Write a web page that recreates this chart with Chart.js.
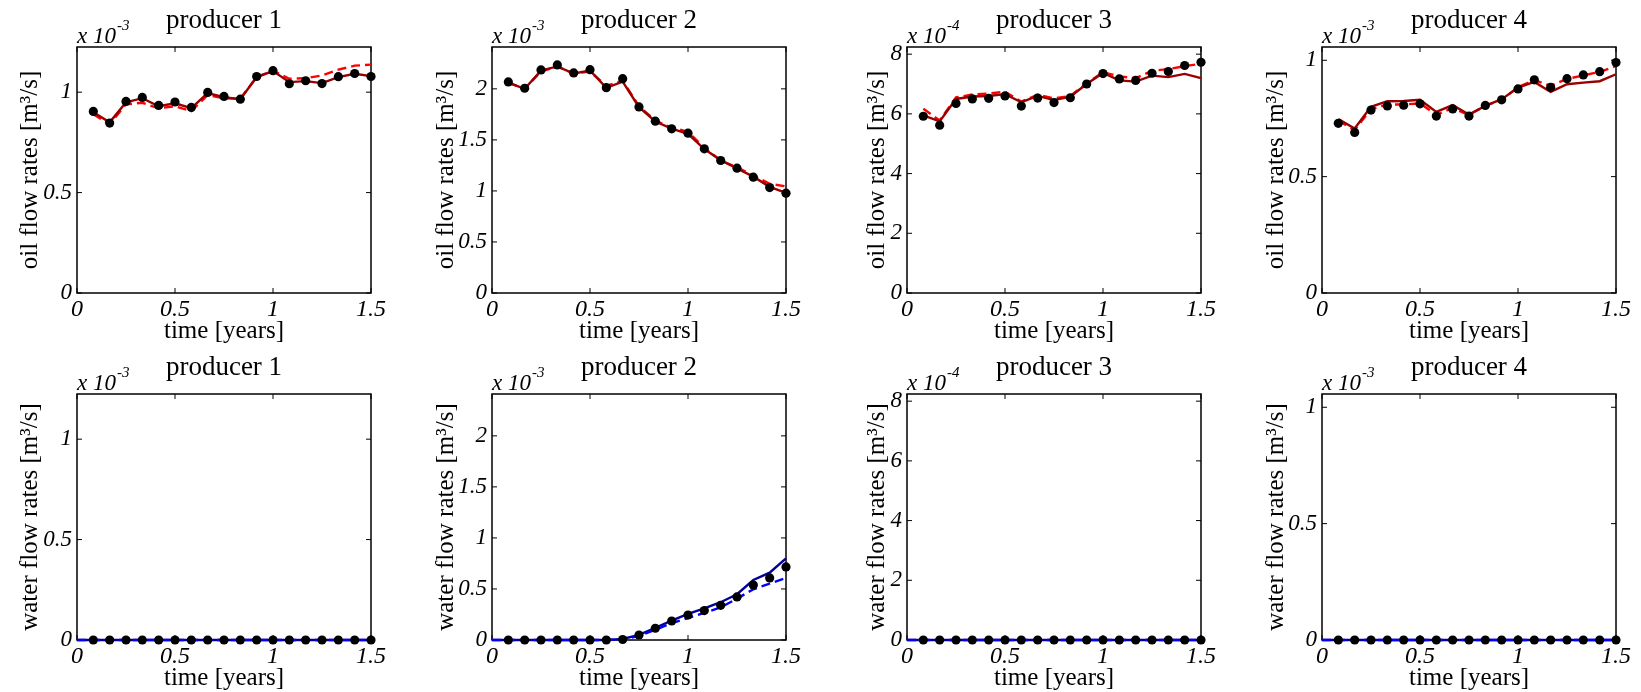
<!DOCTYPE html>
<html>
<head>
<meta charset="utf-8">
<title>producer flow rates</title>
<script src="https://cdn.jsdelivr.net/npm/chart.js@4.4.1/dist/chart.umd.min.js"></script>
<style>
  html, body { margin: 0; padding: 0; background: #fff; overflow: hidden; }
  #board { position: relative; width: 1641px; height: 692px; }
  #board canvas { position: absolute; }
</style>
</head>
<body>
<div id="board"></div>
<script>
// report times [years]
const time = [0.0833, 0.1667, 0.25, 0.3333, 0.4167, 0.5, 0.5833, 0.6667, 0.75,
              0.8333, 0.9167, 1.0, 1.0833, 1.1667, 1.25, 1.3333, 1.4167, 1.5];
// simulated water curves also start at t = 0
const timeFromZero = [0, 0.0833, 0.1667, 0.25, 0.3333, 0.4167, 0.5, 0.5833, 0.6667, 0.75,
                      0.8333, 0.9167, 1.0, 1.0833, 1.1667, 1.25, 1.3333, 1.4167, 1.5];

const producers = ['producer 1', 'producer 2', 'producer 3', 'producer 4'];
const exponents = [-3, -3, -4, -3];
const yMax = [1.225, 2.41, 8.24, 1.057];

const xTicks = [0, 0.5, 1, 1.5];
const xTickLabels = ['0', '0.5', '1', '1.5'];
const yTicks = [[0, 0.5, 1], [0, 0.5, 1, 1.5, 2], [0, 2, 4, 6, 8], [0, 0.5, 1]];
const yTickLabels = [['0', '0.5', '1'], ['0', '0.5', '1', '1.5', '2'], ['0', '2', '4', '6', '8'], ['0', '0.5', '1']];

// oil rates (in units of 10^exponent m3/s): observed, simulated (solid), simulated (dashed)
const oilObs1 = [0.904, 0.846, 0.954, 0.974, 0.934, 0.951, 0.924, 0.999, 0.979, 0.965, 1.078, 1.107, 1.042, 1.057, 1.043, 1.077, 1.093, 1.078];
const oilSim1 = [0.900, 0.850, 0.950, 0.970, 0.930, 0.945, 0.920, 0.995, 0.975, 0.965, 1.075, 1.105, 1.050, 1.055, 1.045, 1.075, 1.092, 1.080];
const oilAlt1 = [0.890, 0.840, 0.940, 0.947, 0.920, 0.930, 0.906, 0.985, 0.970, 0.968, 1.075, 1.107, 1.067, 1.070, 1.083, 1.112, 1.132, 1.137];

const oilObs2 = [2.068, 2.006, 2.185, 2.234, 2.156, 2.188, 2.012, 2.100, 1.823, 1.683, 1.608, 1.566, 1.412, 1.298, 1.223, 1.135, 1.033, 0.978];
const oilSim2 = [2.060, 2.000, 2.180, 2.220, 2.150, 2.180, 2.010, 2.070, 1.820, 1.680, 1.610, 1.560, 1.410, 1.300, 1.220, 1.140, 1.040, 0.980];
const oilAlt2 = [2.060, 2.000, 2.170, 2.220, 2.150, 2.170, 2.030, 2.080, 1.830, 1.690, 1.620, 1.580, 1.420, 1.300, 1.230, 1.150, 1.070, 1.045];

const oilObs3 = [5.92, 5.62, 6.35, 6.50, 6.52, 6.60, 6.26, 6.53, 6.38, 6.54, 7.00, 7.35, 7.17, 7.12, 7.36, 7.42, 7.62, 7.73];
const oilSim3 = [5.95, 5.75, 6.50, 6.58, 6.60, 6.66, 6.39, 6.60, 6.46, 6.58, 7.00, 7.37, 7.12, 7.08, 7.28, 7.23, 7.34, 7.20];
const oilAlt3 = [6.17, 5.78, 6.55, 6.65, 6.68, 6.74, 6.41, 6.64, 6.52, 6.60, 7.02, 7.40, 7.25, 7.20, 7.44, 7.50, 7.60, 7.68];

const oilObs4 = [0.729, 0.690, 0.786, 0.804, 0.807, 0.813, 0.760, 0.791, 0.760, 0.806, 0.830, 0.877, 0.916, 0.884, 0.921, 0.937, 0.951, 0.990];
const oilSim4 = [0.747, 0.707, 0.800, 0.824, 0.825, 0.830, 0.778, 0.807, 0.767, 0.804, 0.833, 0.882, 0.907, 0.864, 0.897, 0.904, 0.910, 0.940];
const oilAlt4 = [0.740, 0.700, 0.790, 0.810, 0.810, 0.815, 0.765, 0.795, 0.765, 0.805, 0.830, 0.885, 0.915, 0.890, 0.920, 0.935, 0.950, 0.975];

// water rates: only producer 2 sees breakthrough
const zeros18 = [0, 0, 0, 0, 0, 0, 0, 0, 0, 0, 0, 0, 0, 0, 0, 0, 0, 0];
const zeros19 = [0, 0, 0, 0, 0, 0, 0, 0, 0, 0, 0, 0, 0, 0, 0, 0, 0, 0, 0];
const watObs2 = [0, 0, 0, 0, 0, 0, 0, 0.005, 0.049, 0.115, 0.186, 0.245, 0.288, 0.340, 0.422, 0.539, 0.608, 0.716];
const watSim2 = [0, 0, 0, 0, 0, 0, 0, 0, 0.010, 0.050, 0.120, 0.190, 0.255, 0.310, 0.370, 0.448, 0.588, 0.660, 0.800];
const watAlt2 = [0, 0, 0, 0, 0, 0, 0, 0, 0.005, 0.040, 0.100, 0.165, 0.215, 0.265, 0.320, 0.405, 0.497, 0.553, 0.608];

const oilObs = [oilObs1, oilObs2, oilObs3, oilObs4];
const oilSim = [oilSim1, oilSim2, oilSim3, oilSim4];
const oilAlt = [oilAlt1, oilAlt2, oilAlt3, oilAlt4];
const watObs = [zeros18, watObs2, zeros18, zeros18];
const watSim = [zeros19, watSim2, zeros19, zeros19];
const watAlt = [zeros19, watAlt2, zeros19, zeros19];

const serif = '"Liberation Serif", "Times New Roman", Times, serif';
Chart.defaults.font.family = serif;
Chart.defaults.color = '#000';

const colLeft = [0, 415, 830, 1245];
const rowTop = [0, 347];
const yTitlePad = [17.5, 18.5, 34.5, 18.5];

const pts = (xs, ys) => xs.map((x, i) => ({ x: x, y: ys[i] }));

// box with inward tick marks on all four sides, plus the "x 10^n" multiplier
const matlabFrame = {
  id: 'matlabFrame',
  beforeDatasetsDraw(chart, args, opts) {
    const { ctx, chartArea: a, scales: { x, y } } = chart;
    ctx.save();
    ctx.strokeStyle = '#000';
    ctx.lineWidth = 1.5;
    ctx.strokeRect(a.left, a.top, a.width, a.height);
    ctx.lineWidth = 1;
    ctx.beginPath();
    x.ticks.forEach(t => {
      const px = x.getPixelForValue(t.value);
      ctx.moveTo(px, a.bottom); ctx.lineTo(px, a.bottom - 5);
      ctx.moveTo(px, a.top); ctx.lineTo(px, a.top + 5);
    });
    y.ticks.forEach(t => {
      const py = y.getPixelForValue(t.value);
      ctx.moveTo(a.left, py); ctx.lineTo(a.left + 5, py);
      ctx.moveTo(a.right, py); ctx.lineTo(a.right - 5, py);
    });
    ctx.stroke();

    ctx.fillStyle = '#000';
    ctx.textBaseline = 'alphabetic';
    ctx.textAlign = 'left';
    ctx.font = 'italic 23px ' + serif;
    ctx.fillText('x 10', a.left, a.top - 4);
    const w = ctx.measureText('x 10').width;
    ctx.font = 'italic 15px ' + serif;
    ctx.fillText(String(opts.exponent), a.left + w + 1, a.top - 17);
    ctx.restore();
  }
};

function makePanel(row, col) {
  const canvas = document.createElement('canvas');
  canvas.width = 391;
  canvas.height = 343;
  canvas.style.left = colLeft[col] + 'px';
  canvas.style.top = rowTop[row] + 'px';
  document.getElementById('board').appendChild(canvas);

  const oil = row === 0;
  const solidColor = oil ? '#990000' : '#000099';
  const dashColor = oil ? '#ff0000' : '#0000ff';
  const simX = oil ? time : timeFromZero;

  new Chart(canvas, {
    type: 'line',
    plugins: [matlabFrame],
    data: {
      datasets: [
        {
          data: pts(time, oil ? oilObs[col] : watObs[col]),
          showLine: false,
          pointRadius: 4.6,
          pointBackgroundColor: '#000',
          pointBorderWidth: 0,
          clip: false,
          order: 0
        },
        {
          data: pts(simX, oil ? oilSim[col] : watSim[col]),
          borderColor: solidColor,
          borderWidth: 2.4,
          pointRadius: 0,
          clip: false,
          order: oil ? 1 : 2
        },
        {
          data: pts(simX, oil ? oilAlt[col] : watAlt[col]),
          borderColor: dashColor,
          borderWidth: 2.4,
          borderDash: [9, 5],
          pointRadius: 0,
          clip: false,
          order: oil ? 2 : 1
        }
      ]
    },
    options: {
      responsive: false,
      animation: false,
      events: [],
      layout: { autoPadding: false, padding: { left: 0, right: 20, top: 0, bottom: 0 } },
      plugins: {
        legend: { display: false },
        tooltip: { enabled: false },
        title: {
          display: true,
          text: producers[col],
          fullSize: false,
          font: { size: 27, weight: 'normal', lineHeight: 1.1 },
          padding: { top: 6, bottom: 11.3 }
        },
        matlabFrame: { exponent: exponents[col] }
      },
      scales: {
        x: {
          type: 'linear',
          min: 0,
          max: 1.5,
          afterBuildTicks: s => { s.ticks = xTicks.map(v => ({ value: v })); },
          afterFit: s => { s.height = 50; },
          grid: { display: false, drawTicks: false },
          border: { display: false },
          ticks: {
            padding: 2,
            maxRotation: 0,
            autoSkip: false,
            font: { size: 24, style: 'italic' },
            callback: (v, i) => xTickLabels[i]
          },
          title: {
            display: true,
            text: 'time [years]',
            font: { size: 25, lineHeight: 1 },
            padding: { top: 0, bottom: -0.5 }
          }
        },
        y: {
          min: 0,
          max: yMax[col],
          afterBuildTicks: s => { s.ticks = yTicks[col].map(v => ({ value: v })); },
          afterFit: s => { s.width = 77; },
          grid: { display: false, drawTicks: false },
          border: { display: false },
          ticks: {
            padding: 5,
            font: { size: 23, style: 'italic' },
            callback: (v, i) => yTickLabels[col][i]
          },
          title: {
            display: true,
            text: (oil ? 'oil' : 'water') + ' flow rates [m\u00b3/s]',
            font: { size: 25, lineHeight: 1 },
            padding: { top: yTitlePad[col], bottom: 0 }
          }
        }
      }
    }
  });
}

for (let r = 0; r < 2; r++) {
  for (let c = 0; c < 4; c++) makePanel(r, c);
}
</script>
</body>
</html>
